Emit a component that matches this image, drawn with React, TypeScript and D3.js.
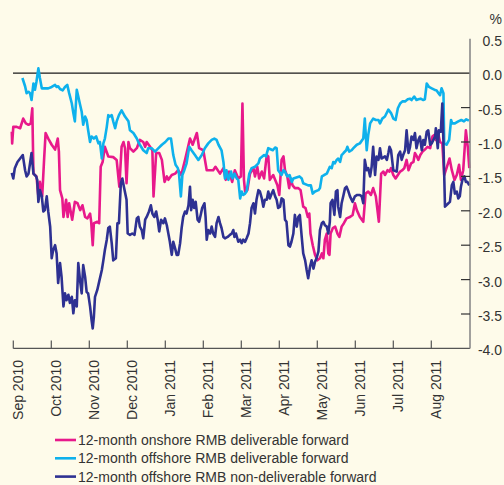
import React from "react";
import * as d3 from "d3";

// months since 1 Sep 2010 (category axis, one slot per month), value in %
const monthLabels = ["Sep 2010","Oct 2010","Nov 2010","Dec 2010","Jan 2011","Feb 2011","Mar 2011","Apr 2011","May 2011","Jun 2011","Jul 2011","Aug 2011"];
const yTicks = [0.5, 0.0, -0.5, -1.0, -1.5, -2.0, -2.5, -3.0, -3.5, -4.0];

const onshoreDF: [number, number][] = [[-0.04,-0.85],[-0.03,-1.02],[0.0,-0.78],[0.09,-0.78],[0.18,-0.80],[0.26,-0.66],[0.33,-0.73],[0.40,-0.75],[0.46,-0.73],[0.50,-0.51],[0.53,-1.46],[0.57,-1.48],[0.61,-1.50],[0.66,-1.79],[0.70,-1.58],[0.76,-1.79],[0.81,-1.26],[0.85,-0.87],[0.92,-0.95],[1.01,-1.04],[1.10,-1.11],[1.17,-0.95],[1.20,-1.14],[1.23,-1.70],[1.29,-1.82],[1.32,-2.09],[1.39,-1.84],[1.43,-2.09],[1.47,-1.89],[1.55,-2.13],[1.62,-1.87],[1.69,-1.89],[1.76,-1.99],[1.82,-1.92],[1.89,-2.09],[1.95,-2.11],[2.02,-2.04],[2.05,-2.16],[2.09,-2.50],[2.12,-2.18],[2.21,-2.16],[2.26,-2.18],[2.30,-1.36],[2.35,-1.29],[2.41,-1.07],[2.50,-1.21],[2.63,-1.22],[2.72,-1.26],[2.79,-1.65],[2.85,-1.07],[2.90,-1.00],[2.94,-1.09],[2.98,-1.60],[3.03,-1.00],[3.07,-1.09],[3.16,-1.14],[3.25,-1.09],[3.33,-0.97],[3.42,-1.00],[3.47,-1.07],[3.51,-1.00],[3.60,-1.07],[3.66,-1.12],[3.69,-1.79],[3.76,-1.16],[3.84,-1.16],[3.91,-1.26],[3.98,-1.58],[4.04,-1.50],[4.08,-1.55],[4.17,-1.48],[4.26,-1.46],[4.34,-1.41],[4.42,-1.48],[4.52,-1.26],[4.65,-0.95],[4.72,-1.04],[4.83,-0.87],[4.89,-1.09],[5.00,-1.12],[5.09,-1.41],[5.26,-1.41],[5.32,-1.36],[5.44,-1.46],[5.53,-1.38],[5.59,-1.55],[5.68,-1.43],[5.76,-1.58],[5.83,-1.41],[5.92,-1.53],[5.99,-1.50],[6.03,-0.44],[6.07,-1.55],[6.10,-1.72],[6.16,-1.70],[6.23,-1.46],[6.32,-1.38],[6.36,-1.50],[6.42,-1.36],[6.47,-1.53],[6.54,-1.43],[6.60,-1.53],[6.67,-1.19],[6.71,-1.21],[6.75,-1.55],[6.84,-1.48],[6.89,-1.55],[6.95,-1.63],[7.00,-1.77],[7.06,-1.26],[7.11,-1.21],[7.15,-1.41],[7.21,-1.50],[7.26,-1.67],[7.30,-1.53],[7.35,-1.63],[7.41,-1.67],[7.50,-1.67],[7.56,-1.70],[7.63,-1.94],[7.69,-1.96],[7.75,-2.09],[7.79,-2.04],[7.82,-2.33],[7.88,-2.50],[7.94,-2.64],[8.00,-2.72],[8.07,-2.69],[8.12,-2.62],[8.16,-2.69],[8.20,-2.42],[8.25,-2.33],[8.29,-2.62],[8.32,-2.64],[8.35,-2.33],[8.41,-2.25],[8.47,-2.23],[8.53,-2.33],[8.58,-2.38],[8.64,-2.23],[8.70,-2.18],[8.77,-2.11],[8.86,-2.09],[8.93,-2.06],[8.99,-1.89],[9.04,-1.99],[9.12,-2.09],[9.21,-2.16],[9.27,-1.75],[9.34,-1.72],[9.41,-1.77],[9.47,-1.67],[9.54,-1.79],[9.62,-2.16],[9.68,-1.46],[9.74,-1.43],[9.78,-1.48],[9.85,-1.41],[9.90,-1.43],[9.94,-1.38],[10.00,-1.48],[10.06,-1.53],[10.12,-1.48],[10.18,-1.43],[10.24,-1.41],[10.29,-1.38],[10.35,-1.26],[10.40,-1.41],[10.47,-1.31],[10.53,-1.29],[10.57,-1.16],[10.62,-1.21],[10.66,-1.26],[10.71,-1.19],[10.77,-1.14],[10.83,-1.11],[10.90,-1.07],[10.97,-1.09],[11.03,-0.92],[11.07,-0.90],[11.12,-0.97],[11.17,-0.85],[11.23,-1.00],[11.29,-1.02],[11.34,-1.48],[11.40,-1.38],[11.48,-1.24],[11.54,-1.41],[11.61,-1.55],[11.67,-1.48],[11.73,-1.33],[11.78,-1.55],[11.84,-1.41],[11.91,-0.83],[11.96,-1.07],[12.00,-1.38]];

const offshoreDF: [number, number][] = [[0.24,-0.07],[0.31,-0.19],[0.35,-0.29],[0.40,-0.27],[0.44,-0.29],[0.48,-0.39],[0.53,-0.15],[0.57,-0.24],[0.61,-0.12],[0.66,0.07],[0.70,-0.07],[0.75,-0.22],[0.83,-0.22],[0.92,-0.22],[1.01,-0.20],[1.10,-0.17],[1.14,-0.20],[1.18,-0.19],[1.23,-0.23],[1.30,-0.25],[1.36,-0.20],[1.42,-0.17],[1.47,-0.29],[1.54,-0.44],[1.58,-0.58],[1.62,-0.70],[1.67,-0.24],[1.71,-0.34],[1.75,-0.44],[1.80,-0.56],[1.84,-0.75],[1.89,-0.63],[1.93,-0.68],[1.97,-0.83],[2.02,-1.00],[2.06,-0.92],[2.12,-0.95],[2.18,-0.92],[2.24,-1.02],[2.28,-1.00],[2.33,-1.24],[2.37,-1.02],[2.41,-0.95],[2.46,-0.78],[2.50,-0.61],[2.54,-0.63],[2.59,-0.61],[2.63,-0.70],[2.68,-0.80],[2.72,-0.70],[2.78,-0.61],[2.85,-0.54],[2.94,-0.63],[3.03,-0.70],[3.07,-0.83],[3.16,-0.87],[3.25,-0.95],[3.29,-1.00],[3.33,-1.04],[3.42,-1.12],[3.51,-1.16],[3.55,-1.09],[3.64,-1.09],[3.73,-1.14],[3.82,-1.09],[3.91,-1.04],[4.00,-1.00],[4.08,-0.95],[4.15,-0.95],[4.21,-1.19],[4.27,-1.33],[4.33,-1.38],[4.36,-1.46],[4.41,-1.79],[4.45,-1.48],[4.50,-1.41],[4.56,-1.31],[4.63,-1.07],[4.69,-1.12],[4.78,-1.19],[4.87,-1.26],[4.96,-1.19],[5.04,-1.09],[5.13,-1.02],[5.22,-0.97],[5.29,-0.95],[5.35,-0.97],[5.40,-1.04],[5.48,-1.12],[5.53,-1.29],[5.57,-1.53],[5.61,-1.41],[5.66,-1.55],[5.73,-1.43],[5.77,-1.53],[5.82,-1.46],[5.88,-1.53],[5.92,-1.55],[5.97,-1.82],[6.01,-1.72],[6.05,-1.77],[6.10,-1.75],[6.14,-1.72],[6.21,-1.46],[6.27,-1.38],[6.36,-1.36],[6.45,-1.31],[6.49,-1.24],[6.60,-1.19],[6.65,-1.21],[6.71,-1.09],[6.83,-1.12],[6.89,-1.08],[6.93,-1.09],[6.97,-1.41],[7.06,-1.48],[7.11,-1.41],[7.15,-1.43],[7.21,-1.50],[7.27,-1.48],[7.33,-1.58],[7.37,-1.53],[7.53,-1.50],[7.59,-1.53],[7.63,-1.60],[7.76,-1.63],[7.83,-1.63],[7.88,-1.75],[7.94,-1.72],[8.03,-1.70],[8.07,-1.67],[8.12,-1.50],[8.18,-1.48],[8.25,-1.46],[8.29,-1.41],[8.33,-1.36],[8.38,-1.38],[8.42,-1.29],[8.46,-1.31],[8.51,-1.26],[8.55,-1.24],[8.60,-1.29],[8.64,-1.19],[8.69,-1.16],[8.76,-1.12],[8.79,-1.07],[8.84,-1.14],[8.90,-1.12],[8.95,-1.09],[9.04,-1.04],[9.12,-1.02],[9.21,-0.95],[9.25,-0.66],[9.30,-1.12],[9.34,-0.90],[9.39,-0.73],[9.47,-0.66],[9.54,-0.68],[9.61,-0.68],[9.65,-0.73],[9.71,-0.66],[9.78,-0.63],[9.87,-0.53],[9.94,-0.58],[10.00,-0.66],[10.06,-0.68],[10.12,-0.51],[10.18,-0.44],[10.24,-0.41],[10.31,-0.41],[10.38,-0.38],[10.44,-0.37],[10.48,-0.39],[10.55,-0.34],[10.61,-0.39],[10.66,-0.38],[10.72,-0.37],[10.79,-0.39],[10.83,-0.38],[10.88,-0.15],[10.94,-0.20],[11.01,-0.22],[11.08,-0.24],[11.14,-0.25],[11.19,-0.29],[11.23,-0.32],[11.27,-0.22],[11.32,-0.29],[11.34,-1.02],[11.40,-1.04],[11.47,-0.97],[11.52,-0.68],[11.55,-0.73],[11.62,-0.73],[11.71,-0.70],[11.79,-0.68],[11.86,-0.70],[11.92,-0.67],[11.99,-0.69]];

const offshoreNDF: [number, number][] = [[-0.04,-1.45],[0.00,-1.53],[0.04,-1.38],[0.11,-1.29],[0.18,-1.24],[0.25,-1.19],[0.31,-1.41],[0.35,-1.50],[0.40,-1.46],[0.44,-1.31],[0.48,-1.16],[0.53,-1.46],[0.60,-1.50],[0.63,-1.55],[0.66,-1.87],[0.70,-1.70],[0.75,-1.79],[0.79,-2.01],[0.83,-1.99],[0.88,-1.79],[0.92,-2.01],[0.97,-2.23],[1.01,-2.69],[1.05,-2.57],[1.10,-2.50],[1.14,-2.62],[1.18,-3.05],[1.23,-2.76],[1.27,-2.96],[1.32,-3.39],[1.36,-3.20],[1.40,-3.30],[1.45,-3.22],[1.49,-3.34],[1.54,-3.25],[1.58,-3.49],[1.62,-3.30],[1.67,-3.39],[1.71,-2.76],[1.75,-2.98],[1.80,-3.20],[1.84,-2.79],[1.89,-2.96],[1.93,-3.18],[1.97,-3.20],[2.02,-3.39],[2.06,-3.59],[2.09,-3.71],[2.12,-3.54],[2.15,-3.25],[2.21,-3.15],[2.26,-3.03],[2.33,-2.86],[2.37,-2.72],[2.41,-2.57],[2.46,-2.42],[2.50,-2.25],[2.54,-2.23],[2.59,-2.47],[2.63,-2.72],[2.70,-2.69],[2.74,-2.18],[2.78,-2.18],[2.83,-1.60],[2.87,-1.53],[2.91,-1.65],[2.98,-1.84],[3.01,-2.33],[3.07,-2.35],[3.13,-2.33],[3.19,-2.35],[3.25,-2.11],[3.29,-2.09],[3.33,-2.23],[3.38,-2.28],[3.42,-2.40],[3.47,-2.13],[3.51,-2.09],[3.57,-2.01],[3.62,-1.92],[3.66,-2.04],[3.71,-2.09],[3.76,-2.01],[3.80,-2.13],[3.84,-2.30],[3.89,-2.13],[3.95,-2.18],[3.99,-2.11],[4.04,-2.21],[4.08,-2.33],[4.12,-2.45],[4.17,-2.64],[4.21,-2.45],[4.26,-2.55],[4.30,-2.64],[4.34,-2.64],[4.39,-2.47],[4.43,-2.25],[4.47,-2.09],[4.52,-2.01],[4.56,-2.04],[4.61,-1.92],[4.65,-1.65],[4.68,-1.99],[4.72,-1.84],[4.76,-1.96],[4.80,-1.87],[4.85,-2.13],[4.89,-2.16],[4.94,-2.04],[4.97,-1.96],[5.03,-1.89],[5.06,-2.09],[5.09,-2.42],[5.13,-2.28],[5.18,-2.33],[5.22,-2.23],[5.26,-2.33],[5.31,-2.38],[5.35,-2.18],[5.40,-2.09],[5.44,-2.18],[5.48,-2.25],[5.53,-2.38],[5.57,-2.40],[5.64,-2.38],[5.70,-2.35],[5.75,-2.33],[5.79,-2.28],[5.82,-2.38],[5.86,-2.33],[5.92,-2.45],[5.97,-2.42],[6.01,-2.47],[6.05,-2.42],[6.10,-2.45],[6.14,-2.40],[6.19,-2.33],[6.23,-2.18],[6.27,-1.96],[6.32,-1.89],[6.36,-2.04],[6.40,-1.84],[6.45,-1.70],[6.49,-1.72],[6.54,-1.82],[6.58,-1.94],[6.62,-1.84],[6.67,-1.84],[6.71,-1.72],[6.75,-1.82],[6.80,-1.75],[6.84,-1.70],[6.89,-1.79],[6.93,-1.84],[6.97,-1.96],[7.02,-1.94],[7.06,-1.82],[7.11,-1.84],[7.15,-2.13],[7.19,-2.16],[7.24,-2.50],[7.28,-2.52],[7.32,-2.45],[7.37,-2.33],[7.41,-2.06],[7.46,-2.23],[7.50,-2.09],[7.54,-2.06],[7.59,-2.38],[7.63,-2.62],[7.68,-2.72],[7.72,-2.86],[7.76,-2.98],[7.81,-2.81],[7.85,-2.72],[7.90,-2.84],[7.94,-2.74],[7.98,-2.69],[8.03,-2.59],[8.07,-2.28],[8.12,-2.18],[8.16,-2.16],[8.20,-2.21],[8.25,-2.23],[8.29,-2.33],[8.33,-2.16],[8.35,-1.89],[8.40,-1.84],[8.45,-2.06],[8.49,-1.72],[8.53,-1.70],[8.55,-1.94],[8.60,-2.09],[8.64,-1.89],[8.69,-1.77],[8.73,-1.67],[8.77,-1.65],[8.82,-1.72],[8.86,-1.79],[8.93,-1.87],[8.99,-1.79],[9.05,-1.77],[9.12,-1.77],[9.17,-1.79],[9.21,-1.89],[9.25,-1.26],[9.30,-1.41],[9.34,-1.38],[9.39,-1.50],[9.43,-1.36],[9.47,-1.07],[9.52,-1.48],[9.56,-1.21],[9.61,-1.26],[9.65,-1.09],[9.69,-1.24],[9.78,-1.21],[9.83,-1.26],[9.87,-1.16],[9.90,-1.07],[9.94,-1.12],[10.00,-1.41],[10.09,-1.43],[10.13,-1.19],[10.18,-1.14],[10.22,-1.26],[10.26,-1.19],[10.31,-1.12],[10.35,-0.83],[10.40,-1.16],[10.44,-1.07],[10.48,-0.92],[10.53,-0.97],[10.57,-0.87],[10.61,-1.09],[10.66,-0.97],[10.70,-0.92],[10.75,-1.12],[10.79,-0.97],[10.83,-1.04],[10.88,-0.85],[10.92,-0.83],[10.97,-1.04],[11.01,-1.02],[11.10,-0.92],[11.12,-0.80],[11.17,-1.09],[11.20,-0.83],[11.25,-0.85],[11.29,-0.44],[11.32,-1.02],[11.36,-1.94],[11.45,-1.89],[11.49,-1.87],[11.54,-1.63],[11.58,-1.58],[11.62,-1.75],[11.67,-1.72],[11.71,-1.82],[11.75,-1.79],[11.78,-1.65],[11.82,-1.55],[11.87,-1.50],[11.91,-1.58],[11.95,-1.58],[12.00,-1.63]];

const seriesNames = ["12-month onshore RMB deliverable forward", "12-month offshore RMB deliverable forward", "12-month offshore RMB non-deliverable forward"];
const seriesData = [onshoreDF, offshoreDF, offshoreNDF];
const seriesColors = ["#e8198b", "#0eb1ec", "#2e3192"];

const W = 504, H = 485;
const FONT = "'Liberation Sans', Arial, Helvetica, sans-serif";
const TEXT = "#333333";

export default function App() {
  const x = d3.scaleLinear().domain([0, 12]).range([13.3, 469.3]);
  const y = d3.scaleLinear().domain([-4, 0.5]).range([348.4, 38.8]);
  const line = d3.line<[number, number]>().x(d => x(d[0])).y(d => y(d[1]));
  const axisX = 470;
  const baseY = y(-4);

  return (
    <svg width={W} height={H} style={{ position: "absolute", left: 0, top: 0, display: "block" }} fontFamily={FONT}>
      <rect x={0} y={0} width={W} height={H} fill="#fefbea" />
      {/* zero line */}
      <line x1={x(0) - 0.3} x2={axisX} y1={y(0)} y2={y(0)} stroke="#1a1a1a" strokeWidth={1.2} />
      {/* series */}
      {seriesData.map((s, i) => (
        <path key={i} d={line(s) || ""} fill="none" stroke={seriesColors[i]} strokeWidth={2.6} strokeLinejoin="round" strokeLinecap="butt" />
      ))}
      {/* x axis */}
      <line x1={x(0)} x2={axisX} y1={baseY} y2={baseY} stroke="#555" strokeWidth={1.2} />
      {monthLabels.map((m, i) => (
        <g key={m}>
          <line x1={x(i)} x2={x(i)} y1={baseY} y2={baseY - 8} stroke="#555" strokeWidth={1.2} />
          <text transform={`translate(${x(i) + 9.4},360) rotate(-90)`} textAnchor="end" fontSize={14} fill={TEXT}>{m}</text>
        </g>
      ))}
      {/* right y axis */}
      <line x1={axisX} x2={axisX} y1={y(0.5)} y2={baseY} stroke="#8a8a8a" strokeWidth={1.6} />
      {yTicks.map(v => (
        <g key={v}>
          {v < 0 && v > -4 && <line x1={axisX - 9} x2={axisX} y1={y(v)} y2={y(v)} stroke="#333" strokeWidth={1.2} />}
          <text x={502} y={y(v) + 7} textAnchor="end" fontSize={14} fill={TEXT}>{v.toFixed(1)}</text>
        </g>
      ))}
      <text x={502} y={24} textAnchor="end" fontSize={14} fill={TEXT}>%</text>
      {/* legend */}
      {seriesNames.map((n, i) => (
        <g key={n}>
          <line x1={55} x2={76} y1={440 + i * 18.3} y2={440 + i * 18.3} stroke={seriesColors[i]} strokeWidth={2.6} />
          <text x={78} y={440 + i * 18.3 + 5} fontSize={14} fill={TEXT}>{n}</text>
        </g>
      ))}
    </svg>
  );
}
